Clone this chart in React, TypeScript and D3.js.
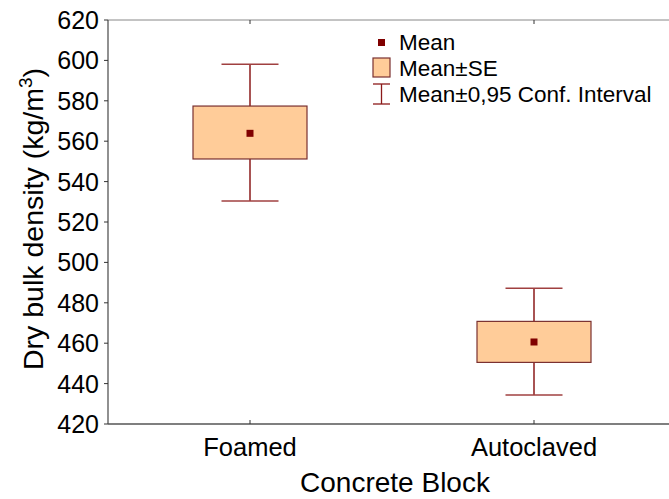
import React from 'react'
import * as d3 from 'd3'

const categories = ['Foamed', 'Autoclaved']
const means = [563.9, 460.6]
const seLow = [551.2, 450.5]
const seHigh = [577.4, 470.8]
const ciLow = [530.4, 434.4]
const ciHigh = [598.1, 487.2]
const yTicks = [420, 440, 460, 480, 500, 520, 540, 560, 580, 600, 620]

const W = 669
const H = 499
const left = 108
const right = 676
const top = 20
const bottom = 424
const font = 'Liberation Sans, Arial, sans-serif'

export default function App() {
  const x = d3.scaleBand().domain(categories).range([left, right])
  const y = d3.scaleLinear().domain([420, 620]).range([bottom, top])
  const bw = 114
  const cap = 57

  return (
    <svg width={W} height={H} style={{ position: 'fixed', left: 0, top: 0, background: '#fff' }}>
      {/* frame */}
      <line x1={left} x2={right} y1={top} y2={top} stroke="#888" strokeWidth={1} />
      <line x1={left} x2={left} y1={top} y2={bottom} stroke="#555" strokeWidth={1.3} />
      <line x1={left} x2={right} y1={bottom} y2={bottom} stroke="#555" strokeWidth={1.3} />

      {yTicks.map(t => (
        <g key={t}>
          <line x1={left - 4} x2={left} y1={y(t)} y2={y(t)} stroke="#333" />
          <text x={left - 9} y={y(t)} dy="0.36em" textAnchor="end" fontFamily={font} fontSize={25} fill="#000">{t}</text>
        </g>
      ))}

      {categories.map(c => {
        const cx = x(c)! + x.bandwidth() / 2
        return (
          <g key={c}>
            <line x1={cx} x2={cx} y1={bottom} y2={bottom - 4} stroke="#333" />
            <line x1={cx} x2={cx} y1={top} y2={top + 4} stroke="#333" />
            <text x={cx} y={456} textAnchor="middle" fontFamily={font} fontSize={25.5} fill="#000">{c}</text>
          </g>
        )
      })}

      {categories.map((c, i) => {
        const cx = x(c)! + x.bandwidth() / 2
        return (
          <g key={'b' + c}>
            <line x1={cx} x2={cx} y1={y(ciHigh[i])} y2={y(ciLow[i])} stroke="#8b1a1a" strokeWidth={1.5} />
            <line x1={cx - cap / 2} x2={cx + cap / 2} y1={y(ciHigh[i])} y2={y(ciHigh[i])} stroke="#a04040" strokeWidth={1.5} />
            <line x1={cx - cap / 2} x2={cx + cap / 2} y1={y(ciLow[i])} y2={y(ciLow[i])} stroke="#a04040" strokeWidth={1.5} />
            <rect x={cx - bw / 2} y={y(seHigh[i])} width={bw} height={y(seLow[i]) - y(seHigh[i])}
              fill="#ffcc99" stroke="#7a3030" strokeWidth={1.2} />
            <rect x={cx - 3.5} y={y(means[i]) - 3.5} width={7} height={7} fill="#800000" />
          </g>
        )
      })}

      {/* legend */}
      <g fontFamily={font} fontSize={22.5} fill="#000">
        <rect x={378} y={39} width={7} height={7} fill="#800000" />
        <text x={399} y={50}>Mean</text>
        <rect x={373} y={58} width={17} height={19} fill="#ffcc99" stroke="#7a3030" strokeWidth={1.2} />
        <text x={399} y={76}>Mean±SE</text>
        <line x1={381.5} x2={381.5} y1={84} y2={104} stroke="#8b1a1a" strokeWidth={1.3} />
        <line x1={373} x2={390} y1={84} y2={84} stroke="#8b1a1a" strokeWidth={1.3} />
        <line x1={373} x2={390} y1={104} y2={104} stroke="#8b1a1a" strokeWidth={1.3} />
        <text x={399} y={102}>Mean±0,95 Conf. Interval</text>
      </g>

      <text transform={`translate(43,${(top + bottom) / 2 - 3}) rotate(-90)`} textAnchor="middle"
        fontFamily={font} fontSize={28.5} fill="#000">
        Dry bulk density (kg/m<tspan dy="-11" fontSize={19}>3</tspan><tspan dy="11">)</tspan>
      </text>
      <text x={395} y={492} textAnchor="middle" fontFamily={font} fontSize={28} fill="#000">Concrete Block</text>
    </svg>
  )
}
